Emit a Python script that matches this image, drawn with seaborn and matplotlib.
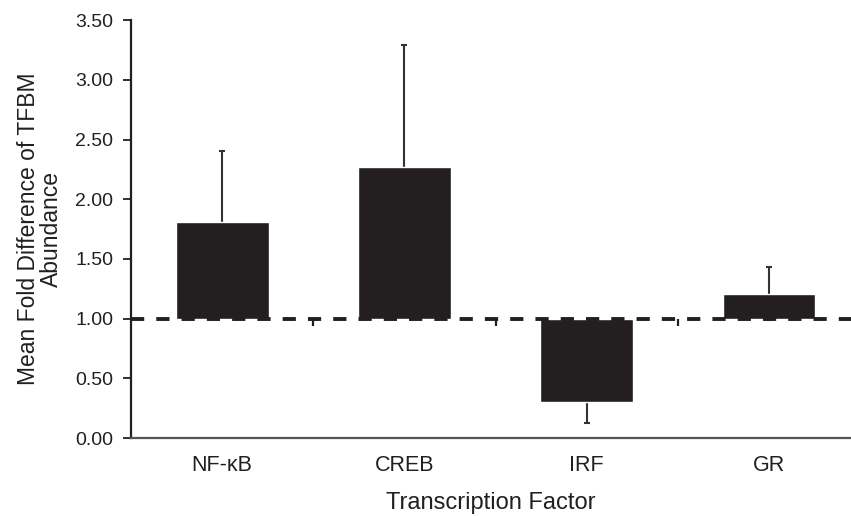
import numpy as np
import pandas as pd
import seaborn as sns
import matplotlib.pyplot as plt

factors = ['NF-κB', 'CREB', 'IRF', 'GR']
fold_diff = [1.81, 2.27, 0.30, 1.21]
err = [0.59, 1.02, 0.17, 0.22]
baseline = 1.0
yticks = [0.0, 0.5, 1.0, 1.5, 2.0, 2.5, 3.0, 3.5]

df = pd.DataFrame({'factor': factors, 'fold': fold_diff, 'err': err})
df['delta'] = df['fold'] - baseline

sns.set_style('white')
plt.rcParams['font.family'] = ['Liberation Sans', 'DejaVu Sans']

fig = plt.figure(figsize=(8.51, 5.16), dpi=100)
ax = fig.add_axes([0.154, 0.151, 0.846, 0.810])

bar_col = '#231f20'
sns.barplot(data=df, x='factor', y='delta', bottom=baseline, color=bar_col,
            width=0.51, saturation=1, errorbar=None, ax=ax, zorder=2)
xs = np.arange(len(factors))
ax.errorbar(xs, df['fold'], yerr=df['err'], fmt='none', ecolor='#333333',
            elinewidth=1.5, capsize=2.3, capthick=1.5, zorder=1)

ax.axhline(baseline, color='#231f20', lw=2.8, ls=(0, (3.4, 3.1)), zorder=3)
# small separators between categories on the baseline
ax.vlines(xs[:-1] + 0.5, baseline - 0.065, baseline, color='#231f20', lw=1.6, zorder=3)

ax.set_ylim(0, 3.5)
ax.set_xlim(-0.5, 3.45)
ax.set_yticks(yticks)
ax.set_yticklabels([f'{v:.2f}' for v in yticks], fontsize=14, color='#231f20')
ax.tick_params(axis='y', direction='out', length=5.8, width=1.3, color='#231f20', pad=7, left=True)
ax.tick_params(axis='x', length=0, pad=12.5, labelsize=15.5, labelcolor='#231f20')

for s in ['top', 'right']:
    ax.spines[s].set_visible(False)
ax.spines['left'].set_color('#231f20')
ax.spines['left'].set_linewidth(1.6)
ax.spines['bottom'].set_color('#555555')
ax.spines['bottom'].set_linewidth(1.6)

ax.set_xlabel('Transcription Factor', fontsize=17, color='#231f20', labelpad=11)
ax.set_ylabel('Mean Fold Difference of TFBM\nAbundance', fontsize=16.5,
              color='#231f20', labelpad=9, linespacing=1.0)

fig.savefig('out.png', dpi=100)
